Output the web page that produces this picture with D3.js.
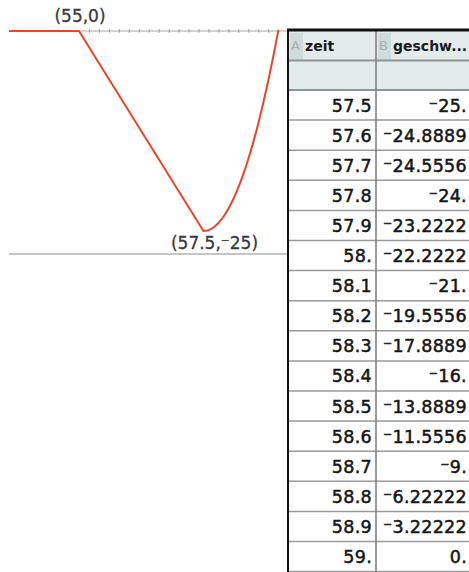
<!DOCTYPE html>
<html>
<head>
<meta charset="utf-8">
<script src="https://cdn.jsdelivr.net/npm/d3@7"></script>
<style>
  html, body { margin: 0; padding: 0; background: #fff; }
  svg { display: block; }
</style>
</head>
<body>
<svg id="chart" width="469" height="572"></svg>
<script>
// Zeit-Geschwindigkeit: Bremsphase (linear) und Anfahrphase (quadratisch)
const zeitWerte = [57.5, 57.6, 57.7, 57.8, 57.9, 58, 58.1, 58.2, 58.3, 58.4, 58.5, 58.6, 58.7, 58.8, 58.9, 59];
const geschwWerte = [-25, -24.8889, -24.5556, -24, -23.2222, -22.2222, -21, -19.5556, -17.8889, -16, -13.8889, -11.5556, -9, -6.22222, -3.22222, 0];

// geradliniger Teil vor dem Minimum
const knickZeit = [53.5, 55, 57.5];
const knickGeschw = [0, 0, -25];

// beschriftete Punkte
const punktZeit = [55, 57.5];
const punktGeschw = [0, -25];

// Tabellenköpfe
const spaltenBuchstaben = ["A", "B"];
const spaltenNamen = ["zeit", "geschw..."];

const svg = d3.select("#chart");

// ---------- Graph ----------
const x = d3.scaleLinear().domain([55, 59]).range([79, 278.2]);
const y = d3.scaleLinear().domain([0, -25]).range([31, 231]);

const plotLeft = 9, plotRight = 288;

svg.append("defs").append("clipPath").attr("id", "plotClip")
  .append("rect").attr("x", plotLeft).attr("y", 0)
  .attr("width", plotRight - plotLeft).attr("height", 254);

const plot = svg.append("g").attr("clip-path", "url(#plotClip)");

// x-Achse mit feinen Teilstrichen nach oben und unten
const tickVals = d3.range(55.2, 59.21, 0.2);
plot.append("line")
  .attr("x1", plotLeft).attr("x2", plotRight)
  .attr("y1", y(0)).attr("y2", y(0))
  .attr("stroke", "#a8a8a8").attr("stroke-width", 1);
[d3.axisBottom(x), d3.axisTop(x)].forEach(ax => {
  const g = plot.append("g").attr("transform", `translate(0,${y(0)})`)
    .call(ax.tickValues(tickVals).tickSize(1.8).tickFormat(""));
  g.select(".domain").remove();
  g.selectAll(".tick line").attr("stroke", "#a0a0a0").attr("stroke-width", 1);
});

plot.append("path")
  .datum(knickZeit.map((t, i) => [t, knickGeschw[i]]))
  .attr("d", d3.line().x(d => x(d[0])).y(d => y(d[1])).curve(d3.curveLinear))
  .attr("fill", "none").attr("stroke", "#ee4426").attr("stroke-width", 2)
  .attr("stroke-linejoin", "round");

plot.append("path")
  .datum(zeitWerte.map((t, i) => [t, geschwWerte[i]]))
  .attr("d", d3.line().x(d => x(d[0])).y(d => y(d[1])).curve(d3.curveCatmullRom))
  .attr("fill", "none").attr("stroke", "#ee4426").attr("stroke-width", 2)
  .attr("stroke-linecap", "round");

// Trennlinie unter dem Graphen
svg.append("line")
  .attr("x1", plotLeft).attr("x2", plotRight)
  .attr("y1", 254).attr("y2", 254)
  .attr("stroke", "#8c8c8c").attr("stroke-width", 1);

// Punktbeschriftungen
const fmtPunkt = v => String(v).replace("-", "\u207B");
const labelOffsets = [[1, -9], [11, 18]];
svg.selectAll("text.punkt")
  .data(punktZeit.map((t, i) => ({ t, v: punktGeschw[i], o: labelOffsets[i] })))
  .join("text")
  .attr("class", "punkt")
  .attr("x", d => x(d.t) + d.o[0])
  .attr("y", d => y(d.v) + d.o[1])
  .attr("text-anchor", "middle")
  .attr("font-family", "DejaVu Sans")
  .attr("font-size", 17)
  .attr("fill", "#3a3a3a")
  .attr("stroke", "#3a3a3a").attr("stroke-width", 0.3)
  .text(d => `(${fmtPunkt(d.t)},${fmtPunkt(d.v)})`);

// ---------- Tabelle ----------
const tabLeft = 288, tabSplit = 376, tabRight = 469;
const headTop = 31, headMid = 60.5, headBottom = 90;
const rowH = 30.1;

const tab = svg.append("g");

tab.append("rect")
  .attr("x", tabLeft).attr("y", headTop)
  .attr("width", tabRight - tabLeft).attr("height", headBottom - headTop)
  .attr("fill", "#e4ebeb");

// Buchstabenfelder in der Kopfzeile
const spaltenX = [tabLeft + 1, tabSplit + 1];
tab.selectAll("rect.buchstabe")
  .data(spaltenBuchstaben)
  .join("rect")
  .attr("class", "buchstabe")
  .attr("x", (d, i) => spaltenX[i] + 1)
  .attr("y", headTop + 2)
  .attr("width", 13)
  .attr("height", headMid - headTop - 2)
  .attr("fill", "#cfdcdc");

tab.selectAll("text.buchstabe")
  .data(spaltenBuchstaben)
  .join("text")
  .attr("class", "buchstabe")
  .attr("x", (d, i) => spaltenX[i] + 2)
  .attr("y", 50)
  .attr("font-family", "DejaVu Sans")
  .attr("font-size", 13)
  .attr("fill", "#a9afaf")
  .text(d => d);

tab.selectAll("text.kopf")
  .data(spaltenNamen)
  .join("text")
  .attr("class", "kopf")
  .attr("x", (d, i) => spaltenX[i] + 16)
  .attr("y", 51)
  .attr("font-family", "DejaVu Sans")
  .attr("font-weight", "bold")
  .attr("font-size", 14)
  .attr("fill", "#1a1a1a")
  .text(d => d);

// Zeilenlinien
const zeilenY = d3.range(zeitWerte.length + 1).map(i => headBottom + i * rowH);
tab.selectAll("line.zeile")
  .data(zeilenY.slice(1))
  .join("line")
  .attr("class", "zeile")
  .attr("x1", tabLeft).attr("x2", tabRight)
  .attr("y1", d => d).attr("y2", d => d)
  .attr("stroke", "#9a9a9a").attr("stroke-width", 1.5);

[headMid, headBottom].forEach(yy => {
  tab.append("line")
    .attr("x1", tabLeft).attr("x2", tabRight)
    .attr("y1", yy).attr("y2", yy)
    .attr("stroke", "#8f9494").attr("stroke-width", 2);
});

tab.append("line")
  .attr("x1", tabSplit).attr("x2", tabSplit)
  .attr("y1", headTop).attr("y2", 572)
  .attr("stroke", "#7a7a7a").attr("stroke-width", 1.5);

// Zahlformat wie am Rechner: 6 signifikante Stellen, ganze Zahlen mit Punkt
const tiFormat = v => {
  let s = String(+v.toPrecision(6));
  if (!s.includes(".")) s += ".";
  return s.replace("-", "\u207B");
};

const zellText = (cls, werte, xRight) =>
  tab.selectAll("text." + cls)
    .data(werte)
    .join("text")
    .attr("class", cls)
    .attr("x", xRight)
    .attr("y", (d, i) => zeilenY[i] + rowH / 2 + 6.5)
    .attr("text-anchor", "end")
    .attr("font-family", "DejaVu Sans")
    .attr("font-size", 17.5)
    .attr("letter-spacing", 0.3)
    .attr("fill", "#161616")
    .attr("stroke", "#161616").attr("stroke-width", 0.5)
    .text(tiFormat);

zellText("zeit", zeitWerte, tabSplit - 4);
zellText("geschw", geschwWerte, tabRight - 2);

// schwarzer Rahmen oben und links
tab.append("line")
  .attr("x1", tabLeft - 1).attr("x2", tabRight)
  .attr("y1", 30).attr("y2", 30)
  .attr("stroke", "#111").attr("stroke-width", 3);
tab.append("line")
  .attr("x1", tabLeft).attr("x2", tabLeft)
  .attr("y1", 29).attr("y2", 572)
  .attr("stroke", "#111").attr("stroke-width", 2);
</script>
</body>
</html>
